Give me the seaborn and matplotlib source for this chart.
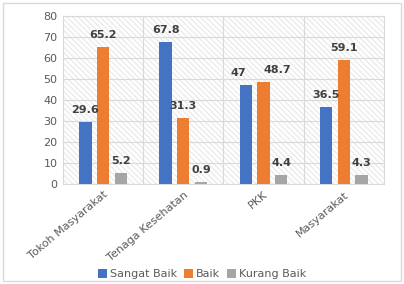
import matplotlib
matplotlib.use("Agg")
import matplotlib.pyplot as plt
import seaborn as sns
import pandas as pd
from matplotlib.patches import Rectangle

sns.set_theme(style="white")
plt.rcParams['font.family'] = ['DejaVu Sans']

categories = ['Tokoh Masyarakat', 'Tenaga Kesehatan', 'PKK', 'Masyarakat']
series = ['Sangat Baik', 'Baik', 'Kurang Baik']
sangat_baik = [29.6, 67.8, 47, 36.5]
baik = [65.2, 31.3, 48.7, 59.1]
kurang_baik = [5.2, 0.9, 4.4, 4.3]
colors = ['#4472C4', '#ED7D31', '#A5A5A5']

df = pd.DataFrame({
    'kategori': categories * 3,
    'seri': [s for s in series for _ in categories],
    'nilai': sangat_baik + baik + kurang_baik,
})

fig = plt.figure(figsize=(4.04, 2.84), dpi=100)
ax = fig.add_axes([0.156, 0.352, 0.794, 0.592])

# light hatched background like the source
ax.add_patch(Rectangle((0, 0), 1, 1, transform=ax.transAxes, facecolor='white',
                       edgecolor='#EBEBEB', hatch='\\\\\\\\\\\\', linewidth=0, zorder=0))

sns.barplot(data=df, x='kategori', y='nilai', hue='seri', palette=colors,
            saturation=1, width=0.66, gap=0.3, linewidth=0, edgecolor='none',
            ax=ax, zorder=3, legend=True)

for c in ax.containers:
    texts = ax.bar_label(c, fmt='%g', padding=5, fontsize=8, fontweight='bold',
                         color='#404040')
    # PKK labels sit close together, nudge apart a little
    if c is ax.containers[0]:
        texts[2].set_x(texts[2].get_position()[0])
        texts[2].set_ha('right')
    if c is ax.containers[1]:
        texts[2].set_ha('left')

ax.set_ylim(0, 80)
ax.set_yticks(range(0, 81, 10))
ax.set_xlim(-0.5, 3.5)
ax.set_xlabel('')
ax.set_ylabel('')
ax.yaxis.grid(True, color='#D9D9D9', linewidth=0.8, zorder=1)
for xv in [0.5, 1.5, 2.5]:
    ax.axvline(xv, color='#D9D9D9', linewidth=0.8, zorder=1)
ax.set_axisbelow(True)
for s in ax.spines.values():
    s.set_color('#D9D9D9')
    s.set_linewidth(0.8)
ax.tick_params(axis='both', length=0, labelsize=8, colors='#595959', pad=4)
plt.setp(ax.get_xticklabels(), rotation=40, ha='right', rotation_mode='anchor')

handles, labels = ax.get_legend_handles_labels()
ax.get_legend().remove()
fig.legend(handles, labels, loc='center', bbox_to_anchor=(0.5, 0.035), ncol=3,
           frameon=False, fontsize=8, handlelength=0.8, handleheight=0.8,
           handletextpad=0.3, columnspacing=0.6, labelcolor='#595959')

fig.add_artist(Rectangle((0.008, 0.01), 0.984, 0.978, transform=fig.transFigure,
                         fill=False, edgecolor='#D9D9D9', linewidth=1))

fig.savefig('out.png', dpi=100)
